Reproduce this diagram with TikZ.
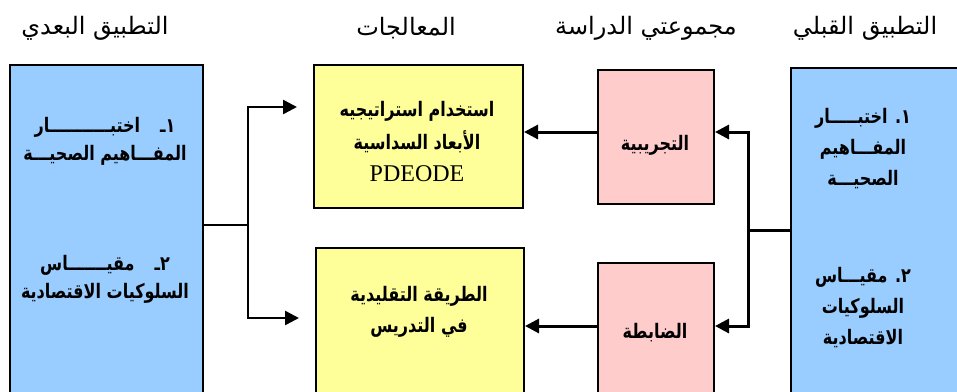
\documentclass[tikz,border=0pt]{standalone}
\usepackage{fontspec}
\setmainfont{Liberation Serif}
\newfontfamily\arabicfont[Script=Arabic]{DejaVu Sans}
\newfontfamily\arabicnarrow[Script=Arabic,FakeStretch=0.8]{DejaVu Sans}
\TeXXeTstate=1
\usetikzlibrary{arrows.meta}
\definecolor{testblue}{RGB}{153,204,255}
\definecolor{treatyellow}{RGB}{255,255,153}
\definecolor{grouppink}{RGB}{255,204,204}
\newcommand{\artxt}[1]{{\arabicfont\beginR #1\endR}}
\newcommand{\arbox}[1]{{\arabicnarrow\bfseries\beginR #1\endR}}

\begin{document}
\begin{tikzpicture}[x=1pt,y=-1pt,
  box/.style={draw=black,line width=2pt,anchor=north west,inner sep=0pt},
  head/.style={font=\fontsize{24}{26}\selectfont},
  txt/.style={font=\fontsize{20}{28}\selectfont,align=center},
  link/.style={line width=2.5pt},
  larr/.style={line width=2.5pt,-{Triangle[length=14pt,width=14pt]}},
  rarr/.style={line width=3pt,-{Triangle[length=14pt,width=14pt]}}]
\clip (0,0) rectangle (957,391);

% headings
\node[head] (hpost) at (95,28) {\artxt{التطبيق البعدي}};
\node[head] (htreat) at (406,28) {\artxt{المعالجات}};
\node[head] (hgroup) at (646,28) {\artxt{مجموعتي الدراسة}};
\node[head] (hpre) at (865,28) {\artxt{التطبيق القبلي}};

% boxes
\node[box,fill=testblue,minimum width=193pt,minimum height=340pt] (post) at (9,64) {};
\node[box,fill=treatyellow,minimum width=209pt,minimum height=143pt] (expT) at (313,64) {};
\node[box,fill=treatyellow,minimum width=208pt,minimum height=160pt] (ctrlT) at (315,247) {};
\node[box,fill=grouppink,minimum width=116pt,minimum height=134pt] (expG) at (597,69) {};
\node[box,fill=grouppink,minimum width=116pt,minimum height=140pt] (ctrlG) at (597,262) {};
\node[box,fill=testblue,minimum width=180pt,minimum height=340pt] (pre) at (790,67) {};

% box texts
\node[txt] (post1) at (105,141) {\arbox{١ـ\quad اختبـــــــــــار}\\\arbox{المفـــاهيم الصحيـــة}};
\node[txt] (post2) at (105,279) {\arbox{٢ـ\quad مقيـــــــاس}\\\arbox{السلوكيات الاقتصادية}};
\node[txt,font=\fontsize{20}{32.5}\selectfont] (expT1) at (417,142) {\arbox{استخدام استراتيجيه}\\\arbox{الأبعاد السداسية}\\{\fontsize{24}{32.5}\selectfont PDEODE}};
\node[txt,font=\fontsize{20}{31}\selectfont] (ctrlT1) at (419,312) {\arbox{الطريقة التقليدية}\\\arbox{في التدريس}};
\node[txt] (expG1) at (655,145) {\arbox{التجريبية}};
\node[txt] (ctrlG1) at (655,333) {\arbox{الضابطة}};
\node[txt,font=\fontsize{20}{31}\selectfont] (pre1) at (863,149) {\arbox{١. اختبـــــار}\\\arbox{المفـــاهيم}\\\arbox{الصحيـــة}};
\node[txt,font=\fontsize{20}{31}\selectfont] (pre2) at (863,308) {\arbox{٢. مقيـــاس}\\\arbox{السلوكيات}\\\arbox{الاقتصادية}};

% post test -> treatments
\coordinate (lj) at (248,225);
\coordinate (la) at (248,107);
\coordinate (lb) at (248,318);
\draw[link] (post.east |- lj) -- (lj);
\draw[larr,shorten >=16pt] (lj) -- (la) -- (expT.west |- la);
\draw[larr,shorten >=16pt] (lj) -- (lb) -- (ctrlT.west |- lb);

% pre test -> groups
\coordinate (rj) at (748,230);
\coordinate (ra) at (748,132);
\coordinate (rb) at (748,326);
\draw[link,line width=3pt] (pre.west |- rj) -- (rj);
\draw[rarr] (rj) -- (ra) -- (expG.east |- ra);
\draw[rarr] (rj) -- (rb) -- (ctrlG.east |- rb);

% groups -> treatments
\draw[rarr] (expG.west |- ra) -- (expT.east |- ra);
\draw[rarr] (ctrlG.west |- rb) -- (ctrlT.east |- rb);
\end{tikzpicture}
\end{document}
